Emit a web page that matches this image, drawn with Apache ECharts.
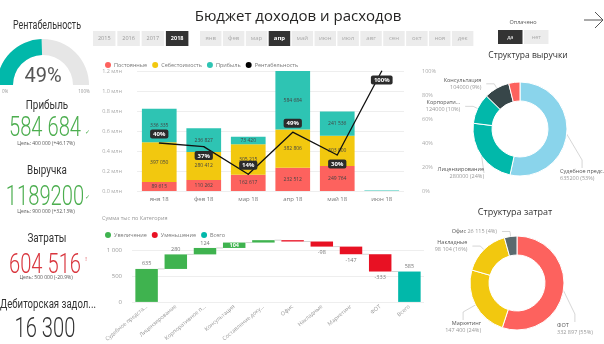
<!DOCTYPE html>
<html><head><meta charset="utf-8">
<script src="https://cdn.jsdelivr.net/npm/echarts@6/dist/echarts.min.js"></script>
<style>html,body{margin:0;padding:0;background:#fff;}#c{width:604px;height:344px;}</style>
</head><body><div id="c"></div>
<script>
// ---------- DATA ----------
const years = ['2015', '2016', '2017', '2018'];
const selectedYear = '2018';
const months = ['янв', 'фев', 'мар', 'апр', 'май', 'июн', 'июл', 'авг', 'сен', 'окт', 'ноя', 'дек'];
const selectedMonth = 'апр';
const paidOptions = ['да', 'нет'];

const barMonths = ['янв 18', 'фев 18', 'мар 18', 'апр 18', 'май 18', 'июн 18'];
const fixedCosts = [89615, 110262, 162617, 232512, 249764, 0];
const costOfSales = [397050, 280412, 305215, 382806, 303000, 0];
const profit = [336335, 236827, 73420, 584684, 241536, 5000];
const profitability = [40, 37, 14, 49, 30, 100];

const wfCategories = ['Судебное предста...', 'Лицензирование', 'Корпоративное п...', 'Консультация', 'Составление доку...', 'Офис', 'Накладные', 'Маркетинг', 'ФОТ', 'Всего'];
const wfValues = [635, 280, 124, 104, 46, -26, -98, -147, -333, 585];

const revenueNames = ['Судебное предс.', 'Лицензирование', 'Корпорати...', 'Консультация', 'Составление документов'];
const revenueValues = [635200, 280000, 124000, 104000, 46000];
const costNames = ['ФОТ', 'Маркетинг', 'Накладные', 'Офис'];
const costValues = [332897, 147400, 98104, 26115];

const gaugeValue = 49;
const kpiTitles = ['Прибыль', 'Выручка', 'Затраты', 'Дебиторская задол...'];
const kpiValues = ['584 684', '1189200', '604 516', '16 300'];
const kpiTargets = ['Цель: 400 000 (+46.17%)', 'Цель: 900 000 (+32.13%)', 'Цель: 500 000 (-20.9%)', ''];

// ---------- STYLE ----------
const FONT = '"Segoe UI", "Open Sans", "Noto Sans", sans-serif';
const NUMFONT = 'Roboto, "Open Sans", sans-serif';
const C_RED = '#fd625e', C_YEL = '#f2c80f', C_TEAL = '#01b8aa', C_BLUE = '#8ad4eb', C_DARK = '#374649';
const WF_UP = '#3fb34f', WF_DOWN = '#e81123', WF_TOT = '#01b8aa';
const fmt = v => String(v).replace(/\B(?=(\d{3})+(?!\d))/g, ' ');

// ---------- GRAPHIC (UI, titles, cards) ----------
const G = [];
function txt(x, y, text, o) {
  G.push(Object.assign({ type: 'text', x: x, y: y, silent: true,
    style: Object.assign({ text: text, fill: '#333', fontSize: 10, fontFamily: FONT, align: 'center', verticalAlign: 'middle' }, o && o.style) },
    o && o.el));
}
txt(298, 17, 'Бюджет доходов и расходов', { style: { fontSize: 15, fill: '#252423' } });
years.forEach((y, i) => {
  const x = 93 + i * 24.3, sel = y === selectedYear;
  G.push({ type: 'rect', silent: true, shape: { x: x, y: 31, width: 22.5, height: 15 }, style: { fill: sel ? '#333' : '#ececec' } });
  txt(x + 11.25, 38.5, y, { style: { fontSize: 5.5, fill: sel ? '#fff' : '#999', fontWeight: sel ? 'bold' : 'normal' } });
});
months.forEach((m, i) => {
  const x = 200 + i * 22.9, sel = m === selectedMonth;
  G.push({ type: 'rect', silent: true, shape: { x: x, y: 31, width: 21.5, height: 15 }, style: { fill: sel ? '#333' : '#ececec' } });
  txt(x + 10.75, 38.5, m, { style: { fontSize: 6, fill: sel ? '#fff' : '#aaa', fontWeight: sel ? 'bold' : 'normal' } });
});
txt(523, 22, 'Оплачено', { style: { fontSize: 5.5, fill: '#555' } });
paidOptions.forEach((p, i) => {
  const x = 498 + i * 26, sel = i === 0;
  G.push({ type: 'rect', silent: true, shape: { x: x, y: 30, width: 24.5, height: 14 }, style: { fill: sel ? '#333' : '#ececec' } });
  txt(x + 12.25, 37, p, { style: { fontSize: 5.5, fill: sel ? '#fff' : '#aaa' } });
});
G.push({ type: 'polyline', silent: true, shape: { points: [[584, 20], [603, 20]] }, style: { stroke: '#555', lineWidth: 1, fill: null } });
G.push({ type: 'polyline', silent: true, shape: { points: [[595, 12], [603, 20], [595, 28]] }, style: { stroke: '#555', lineWidth: 1, fill: null } });
txt(528, 56, 'Структура выручки', { style: { fontSize: 8.5, fill: '#333' } });
txt(515, 212, 'Структура затрат', { style: { fontSize: 9, fill: '#333' } });
txt(102, 218, 'Сумма тыс по Категория', { style: { fontSize: 5.5, fill: '#999', align: 'left' } });

// left cards
txt(47, 26, 'Рентабельность', { style: { fontSize: 12, fill: '#333', fontFamily: NUMFONT }, el: { scaleX: 0.74 } });
txt(2, 92, '0%', { style: { fontSize: 4.5, fill: '#999', align: 'left' } });
txt(84, 92, '100%', { style: { fontSize: 4.5, fill: '#999', align: 'center' } });
const cardY = [[106, 129, 144], [171, 198, 212], [238.5, 266, 278], [304.5, 330, 0]];
const cardColor = ['#4cae4f', '#4cae4f', '#d9363e', '#333'];
kpiTitles.forEach((t, i) => {
  txt(i === 3 ? 48 : 47, cardY[i][0], t, { style: { fontSize: 12, fill: '#333', fontFamily: NUMFONT }, el: { scaleX: i === 3 ? 0.8 : 0.82 } });
  txt(45, cardY[i][1], kpiValues[i], { style: { fontSize: 28, fill: cardColor[i], fontFamily: NUMFONT, fontWeight: 300 }, el: { scaleX: 0.72 } });
  if (kpiTargets[i]) txt(46, cardY[i][2], kpiTargets[i], { style: { fontSize: 5, fill: '#555' } });
});
txt(87, 132, '✓', { style: { fontSize: 6, fill: '#4cae4f' } });
txt(87, 197, '✓', { style: { fontSize: 6, fill: '#4cae4f' } });
txt(86, 259, '!', { style: { fontSize: 6, fill: '#d9363e' } });

// ---------- WATERFALL ----------
let acc = 0;
const wfData = wfValues.map((v, i) => {
  const last = i === wfValues.length - 1;
  let s, e, k;
  if (last) { s = 0; e = v; k = 2; } else { s = acc; e = acc + v; acc = e; k = v >= 0 ? 0 : 1; }
  return [i, s, e, k, v];
});
function renderWF(params, api) {
  const i = api.value(0), s = api.value(1), e = api.value(2), k = api.value(3), v = api.value(4);
  const top = api.coord([i, Math.max(s, e)]), bot = api.coord([i, Math.min(s, e)]);
  const bw = api.size([1, 0])[0] * 0.77;
  const h = Math.max(bot[1] - top[1], 1);
  const col = [WF_UP, WF_DOWN, WF_TOT][k];
  const ch = [{ type: 'rect', shape: { x: top[0] - bw / 2, y: top[1], width: bw, height: h }, style: { fill: col } }];
  if (i < wfValues.length - 1) {
    const yE = api.coord([i, e])[1], nx = api.coord([i + 1, e])[0];
    ch.push({ type: 'line', shape: { x1: top[0] + bw / 2, y1: yE, x2: nx - bw / 2, y2: yE }, style: { stroke: '#c8c8c8', lineWidth: 0.8 } });
  }
  const gridTop = params.coordSys.y;
  const ts = { fontSize: 5.5, fill: '#777', align: 'center', verticalAlign: 'middle', fontFamily: FONT };
  if (h >= 4) {
    if (v < 0) {
      ch.push({ type: 'text', style: Object.assign({}, ts, { text: String(v), x: top[0], y: bot[1] + 6 }) });
    } else if (top[1] - gridTop < 10) {
      ch.push({ type: 'text', style: Object.assign({}, ts, { text: String(v), x: top[0], y: top[1] + h / 2, fill: '#fff', fontWeight: 'bold' }) });
    } else {
      ch.push({ type: 'text', style: Object.assign({}, ts, { text: String(v), x: top[0], y: top[1] - 5 }) });
    }
  }
  return { type: 'group', children: ch };
}

const lineLabelPos = ['top', 'bottom', 'top', 'top', 'bottom', 'bottom'];
const barLabel = { show: true, position: 'inside', fontSize: 5, color: '#444', fontFamily: FONT, formatter: p => p.value > 30000 ? fmt(p.value) : '' };

const revColors = [C_BLUE, C_TEAL, C_TEAL, C_DARK, C_RED];
const costColors = [C_RED, C_YEL, C_YEL, '#5a6a6e'];
const pieLabelBase = { fontSize: 5.5, color: '#999', fontFamily: FONT, lineHeight: 7, overflow: 'none',
  rich: { n: { fontSize: 5.5, color: '#555', lineHeight: 7 }, v: { fontSize: 5.5, color: '#999', lineHeight: 7 } } };
const pieLine = { length: 5, length2: 8, lineStyle: { color: '#bbb', width: 0.6 } };
function pieLabelFmt(sep) {
  return p => {
    const val = sep ? fmt(p.value) : String(p.value);
    const pct = Math.round(p.percent);
    return pct < 5 ? '{n|' + p.name + '} {v|' + val + ' (' + pct + '%)}' : '{n|' + p.name + '}\n{v|' + val + ' (' + pct + '%)}';
  };
}
// Power BI puts the biggest slice label at the lower right and the lower-left label lower
function pieLayout(cx, cy) {
  return p => {
    if (p.dataIndex === 0) return { x: cx + 40, y: cy + 46, align: 'left', verticalAlign: 'middle' };
    if (p.dataIndex === 1) return { x: cx - 36, y: cy + 44, align: 'right', verticalAlign: 'middle' };
    return {};
  };
}

const option = {
  animation: false,
  textStyle: { fontFamily: FONT },
  graphic: G,
  legend: [
    { left: 100, top: 57, itemWidth: 6, itemHeight: 6, itemGap: 5, icon: 'circle', textStyle: { fontSize: 5.5, color: '#777', padding: [0, 0, 0, -2] },
      data: ['Постоянные', 'Себестоимость', 'Прибыль', 'Рентабельность'] },
    { left: 100, top: 227, itemWidth: 6, itemHeight: 6, itemGap: 5, icon: 'circle', textStyle: { fontSize: 5.5, color: '#777', padding: [0, 0, 0, -2] },
      data: ['Увеличение', 'Уменьшение', 'Всего'] }
  ],
  grid: [
    { left: 137, right: 200, top: 71, bottom: 153 },
    { left: 132, right: 180, top: 237, bottom: 32 }
  ],
  xAxis: [
    { gridIndex: 0, type: 'category', data: barMonths, axisLine: { show: false }, axisTick: { show: false }, axisLabel: { fontSize: 6, color: '#777', margin: 5 } },
    { gridIndex: 1, type: 'category', data: wfCategories, axisLine: { show: false }, axisTick: { show: false }, axisLabel: { fontSize: 5.5, color: '#999', rotate: 40, margin: 4, interval: 0 } }
  ],
  yAxis: [
    { gridIndex: 0, type: 'value', min: 0, max: 1200000, interval: 200000, axisLabel: { formatter: v => (v / 1e6).toFixed(1) + ' млн', fontSize: 5.5, color: '#aaa', margin: 15 }, splitLine: { lineStyle: { color: '#eee' } } },
    { gridIndex: 0, type: 'value', min: 0, max: 100, interval: 20, position: 'right', axisLabel: { formatter: '{value}%', fontSize: 5.5, color: '#aaa', margin: 18 }, splitLine: { show: false } },
    { gridIndex: 1, type: 'value', min: 0, max: 1250, interval: 500, axisLabel: { formatter: v => fmt(v), showMaxLabel: false, fontSize: 6, color: '#999', margin: 10 }, splitLine: { showMaxLine: false, lineStyle: { color: '#eee' } } }
  ],
  series: [
    { name: 'Постоянные', type: 'bar', stack: 'm', data: fixedCosts, barWidth: '78%', itemStyle: { color: C_RED }, label: barLabel },
    { name: 'Себестоимость', type: 'bar', stack: 'm', data: costOfSales, barWidth: '78%', itemStyle: { color: C_YEL }, label: barLabel },
    { name: 'Прибыль', type: 'bar', stack: 'm', data: profit, barWidth: '78%', itemStyle: { color: '#2ec4b3' }, label: barLabel },
    { name: 'Рентабельность', type: 'line', yAxisIndex: 1, z: 5,
      data: profitability.map((v, i) => ({ value: v, label: { position: lineLabelPos[i] } })),
      symbol: 'circle', symbolSize: 1, itemStyle: { color: '#000' }, lineStyle: { color: '#111', width: 1.3 },
      label: { show: true, formatter: '{c}%', backgroundColor: '#2b2b2b', color: '#fff', fontSize: 6, fontWeight: 'bold', padding: [2, 3, 1, 3], borderRadius: 2, distance: 4 } },
    { name: 'Увеличение', type: 'bar', xAxisIndex: 1, yAxisIndex: 2, data: [], itemStyle: { color: WF_UP } },
    { name: 'Уменьшение', type: 'bar', xAxisIndex: 1, yAxisIndex: 2, data: [], itemStyle: { color: WF_DOWN } },
    { name: 'Всего', type: 'bar', xAxisIndex: 1, yAxisIndex: 2, data: [], itemStyle: { color: WF_TOT } },
    { name: 'wf', type: 'custom', xAxisIndex: 1, yAxisIndex: 2, renderItem: renderWF, data: wfData, encode: { x: 0, y: [1, 2] }, silent: true },
    { type: 'pie', center: [520, 129], radius: [28, 47], startAngle: 90, clockwise: true, silent: true,
      itemStyle: { borderColor: '#fff', borderWidth: 1 },
      label: Object.assign({ formatter: pieLabelFmt(false) }, pieLabelBase), labelLine: pieLine, labelLayout: pieLayout(520, 129),
      data: revenueNames.map((n, i) => ({ name: n, value: revenueValues[i], itemStyle: { color: revColors[i] }, label: { show: i !== 4 }, labelLine: { show: i !== 4 } })) },
    { type: 'pie', center: [517, 283], radius: [28, 47], startAngle: 90, clockwise: true, silent: true,
      itemStyle: { borderColor: '#fff', borderWidth: 1 },
      label: Object.assign({ formatter: pieLabelFmt(true) }, pieLabelBase), labelLine: pieLine, labelLayout: pieLayout(517, 283),
      data: costNames.map((n, i) => ({ name: n, value: costValues[i], itemStyle: { color: costColors[i] } })) },
    { type: 'gauge', center: [43, 85], radius: 46, startAngle: 180, endAngle: 0, min: 0, max: 100, silent: true,
      axisLine: { lineStyle: { width: 16, color: [[1, '#e6e6e6']] } },
      progress: { show: true, width: 16, itemStyle: { color: C_TEAL } },
      pointer: { show: false }, axisTick: { show: false }, splitLine: { show: false }, axisLabel: { show: false }, title: { show: false },
      detail: { formatter: '{value}%', offsetCenter: [0, -8], fontSize: 20, color: '#555', fontWeight: 'normal', fontFamily: NUMFONT },
      data: [{ value: gaugeValue }] }
  ]
};
const chart = echarts.init(document.getElementById('c'), null, { renderer: 'canvas' });
chart.setOption(option);
</script>
</body></html>
